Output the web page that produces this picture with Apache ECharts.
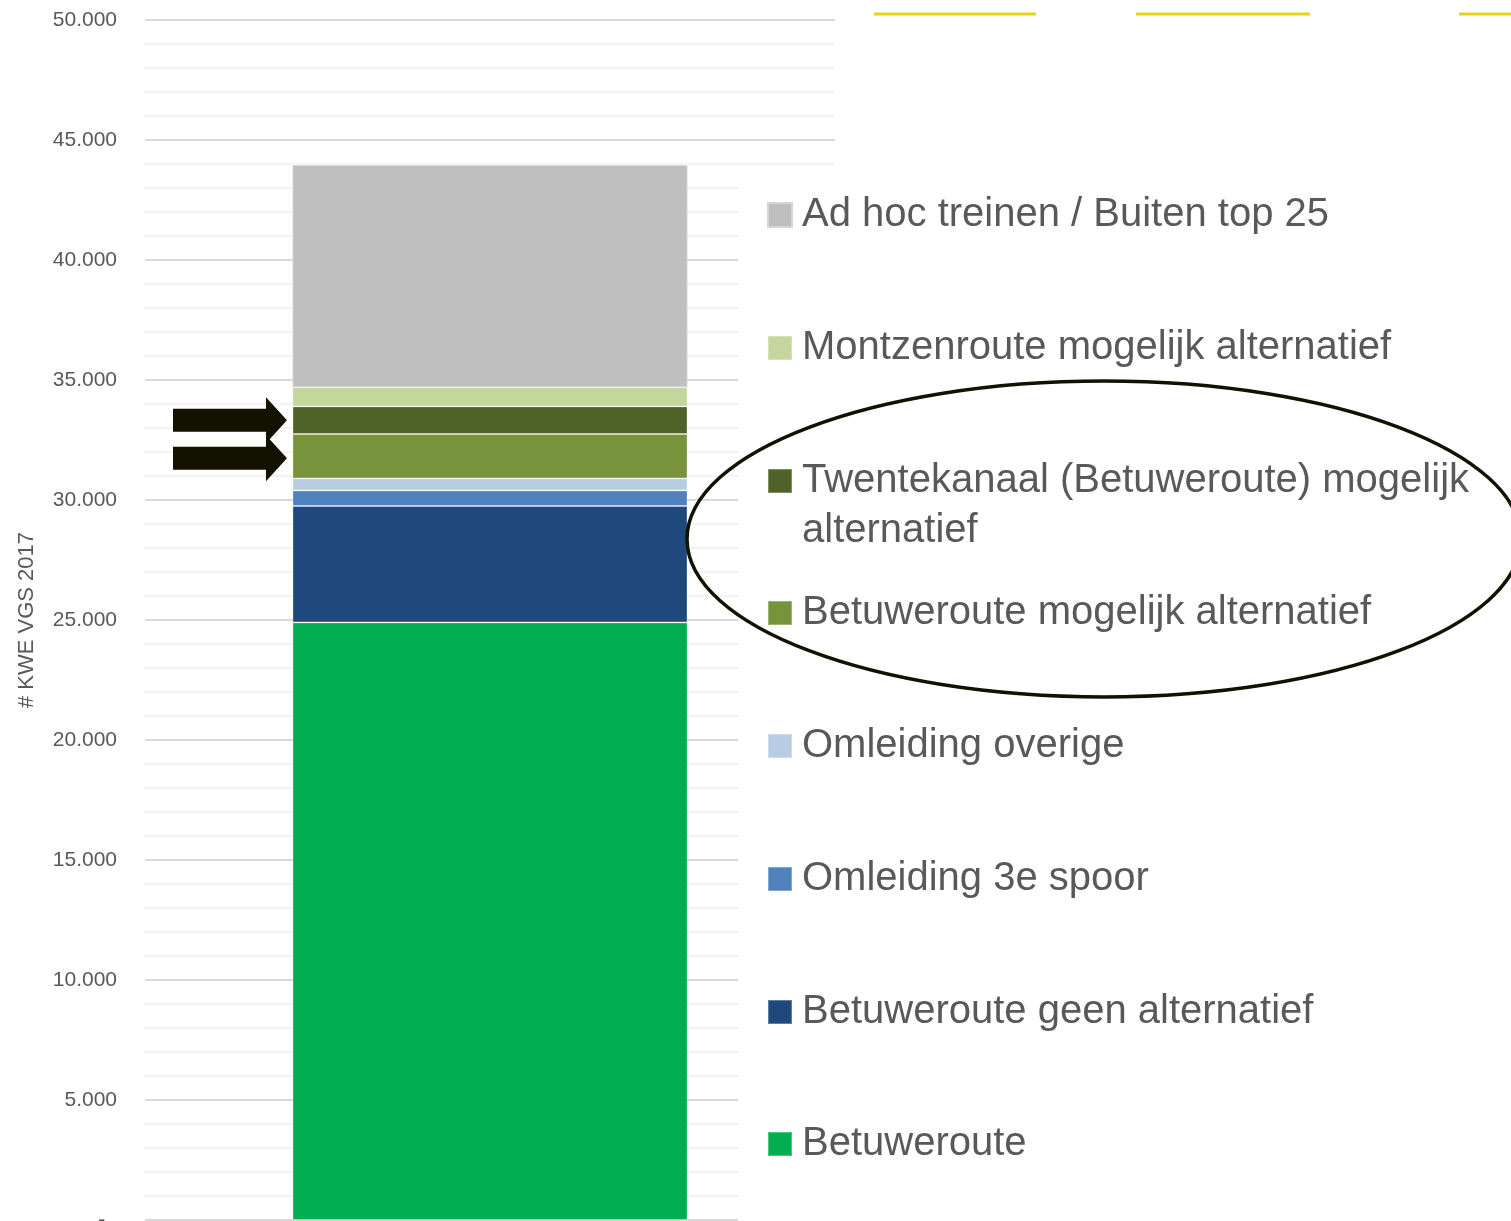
<!DOCTYPE html>
<html>
<head>
<meta charset="utf-8">
<title>KWE VGS 2017</title>
<script src="https://cdn.jsdelivr.net/npm/echarts@6.0.0/dist/echarts.min.js"></script>
<style>
  html, body { margin: 0; padding: 0; background: #fff; }
  #chart { width: 1511px; height: 1221px; }
</style>
</head>
<body>
<div id="chart"></div>
<script>
// categorie (een enkele staaf)
const categories = [''];

// reeksen van onder naar boven
const seriesNames = [
  'Betuweroute',
  'Betuweroute geen alternatief',
  'Omleiding 3e spoor',
  'Omleiding overige',
  'Betuweroute mogelijk alternatief',
  'Twentekanaal (Betuweroute) mogelijk alternatief',
  'Montzenroute mogelijk alternatief',
  'Ad hoc treinen / Buiten top 25'
];
const seriesValues = [24900, 4850, 650, 500, 1850, 1150, 800, 9250];
const seriesColors = ['#00ad4f', '#1f497d', '#4f81bd', '#b8cce4', '#77933c', '#4f6228', '#c3d69b', '#bfbfbf'];

// y-as
const yMin = 0;
const yMax = 50000;
const yStep = 5000;

// legenda: middelpunt van elk item (van boven naar onder)
const legendOrder = [7, 6, 5, 4, 3, 2, 1, 0];
const legendCenters = [215, 348, 481, 613, 746, 879, 1012, 1144];

const textGrey = '#595959';
const font = 'Liberation Sans';

function fmt(v) {
  if (v === 0) return '-  ';
  return String(v).replace(/\B(?=(\d{3})+(?!\d))/g, '.');
}

let myChart = echarts.init(document.getElementById('chart'));

const series = seriesNames.map(function (name, i) {
  return {
    name: name,
    type: 'bar',
    stack: 'totaal',
    barWidth: 395,
    data: [seriesValues[i]],
    itemStyle: {
      color: seriesColors[i],
      borderColor: i === 7 ? '#d6d6d6' : 'rgba(255,255,255,0.3)',
      borderWidth: 1
    }
  };
});

const legends = legendOrder.map(function (idx, k) {
  const twoLines = idx === 5;
  return {
    data: [seriesNames[idx]],
    orient: 'vertical',
    left: 767,
    top: legendCenters[k] - (twoLines ? 75 : 25),
    padding: 0,
    z: 20,
    icon: 'rect',
    itemWidth: 24,
    itemHeight: 24,
    selectedMode: false,
    // lege eerste regel zodat de eerste tekstregel naast het blokje staat
    formatter: twoLines ? '\nTwentekanaal (Betuweroute) mogelijk\nalternatief' : '{name}',
    textStyle: {
      color: textGrey,
      fontFamily: font,
      fontSize: 40,
      lineHeight: 50,
      padding: [0, 0, 0, 5]
    }
  };
});

const option = {
  animation: false,
  backgroundColor: '#fff',
  grid: { left: 145, right: 676, top: 20, bottom: 1, outerBoundsMode: 'none' },
  xAxis: {
    type: 'category',
    data: categories,
    axisLine: { show: false },
    axisTick: { show: false },
    axisLabel: { show: false }
  },
  yAxis: {
    type: 'value',
    min: yMin,
    max: yMax,
    interval: yStep,
    name: '# KWE VGS 2017',
    nameLocation: 'middle',
    nameGap: 107,
    nameTextStyle: { color: textGrey, fontFamily: font, fontSize: 22 },
    axisLine: { show: false },
    axisTick: { show: false },
    axisLabel: {
      color: textGrey,
      fontFamily: font,
      fontSize: 21,
      margin: 28,
      formatter: fmt
    },
    splitLine: { lineStyle: { color: '#d9d9d9', width: 2 } },
    minorTick: { show: false, splitNumber: 5 },
    minorSplitLine: { show: true, lineStyle: { color: '#efefef', width: 1.5 } }
  },
  legend: legends,
  series: series
};

myChart.setOption(option);

// annotaties: wit vlak achter legenda, pijlen, ellips, gele lijnen
function arrow(id, tipY) {
  const sx = 173, hx = 266, tx = 287;
  return {
    type: 'polygon',
    id: id,
    z: 30,
    shape: {
      points: [
        [sx, tipY - 11.5], [hx, tipY - 11.5], [hx, tipY - 23],
        [tx, tipY], [hx, tipY + 23], [hx, tipY + 11.5], [sx, tipY + 11.5]
      ]
    },
    style: { fill: '#131200' }
  };
}

function segmentMid(i) {
  let base = 0;
  for (let k = 0; k < i; k++) base += seriesValues[k];
  return myChart.convertToPixel({ yAxisIndex: 0 }, base + seriesValues[i] / 2);
}

myChart.setOption({
  graphic: [
    { type: 'rect', id: 'cover', z: 10, shape: { x: 738, y: 176, width: 100, height: 1050 }, style: { fill: '#fff' } },
    arrow('arrow1', segmentMid(5)),
    arrow('arrow2', segmentMid(4) + 2),
    {
      type: 'ellipse', id: 'ring', z: 30,
      shape: { cx: 1104, cy: 539, rx: 417, ry: 158 },
      style: { fill: 'none', stroke: '#131200', lineWidth: 3.5 }
    },
    { type: 'line', id: 'y1', z: 30, shape: { x1: 874, y1: 14, x2: 1036, y2: 14 }, style: { stroke: '#e5d613', lineWidth: 3 } },
    { type: 'line', id: 'y2', z: 30, shape: { x1: 1136, y1: 14, x2: 1310, y2: 14 }, style: { stroke: '#e5d613', lineWidth: 3 } },
    { type: 'line', id: 'y3', z: 30, shape: { x1: 1459, y1: 14, x2: 1515, y2: 14 }, style: { stroke: '#e5d613', lineWidth: 3 } }
  ]
});
</script>
</body>
</html>
